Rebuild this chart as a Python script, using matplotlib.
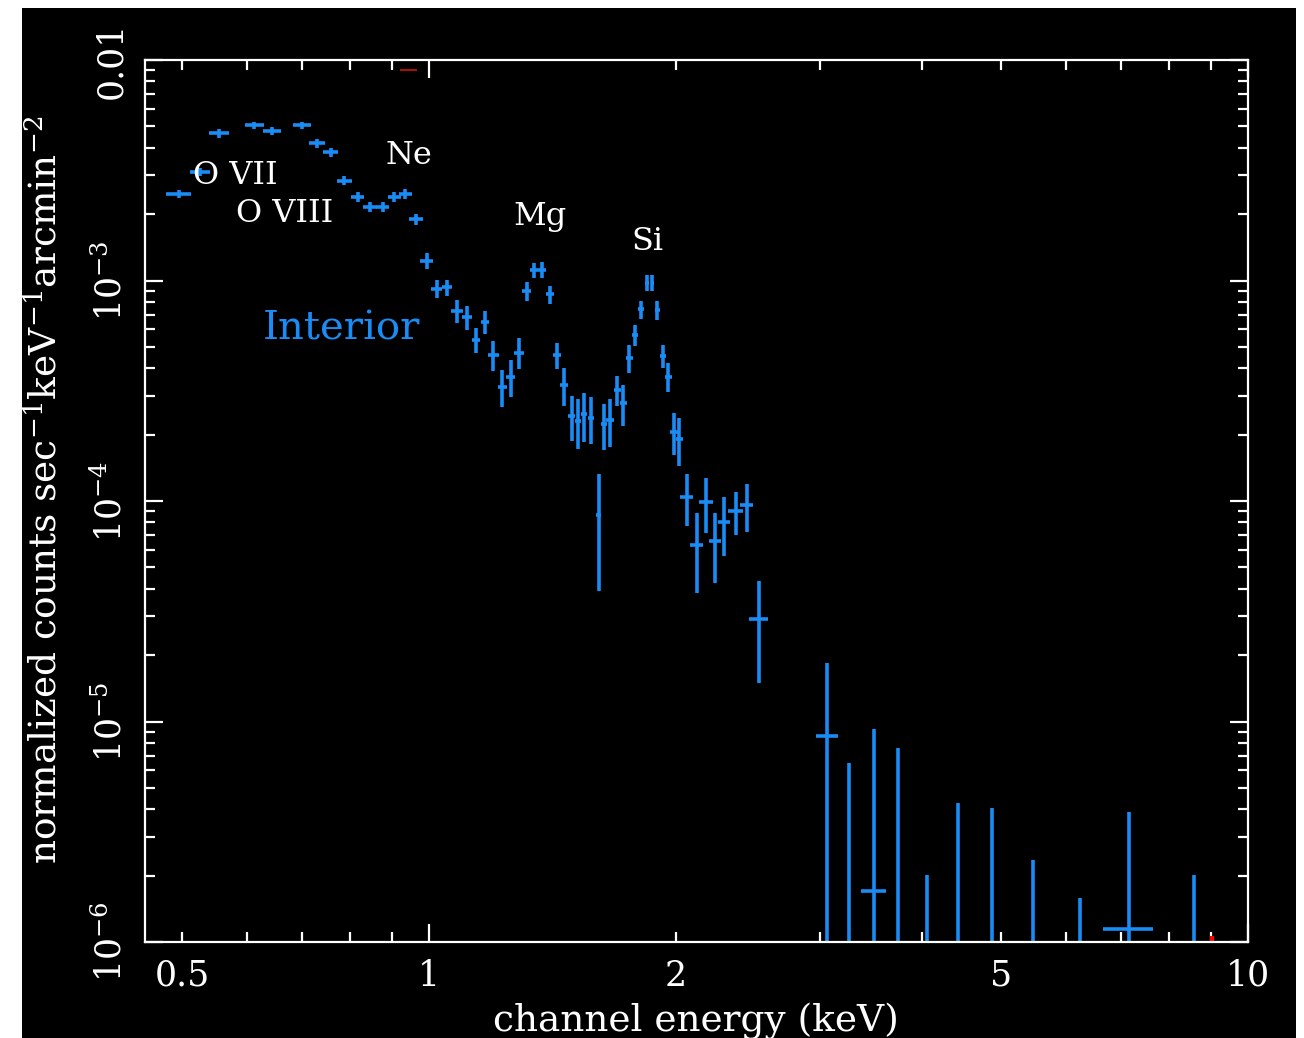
import numpy as np
import matplotlib
matplotlib.use("Agg")
import matplotlib.pyplot as plt
from matplotlib.patches import Rectangle

# spectrum points (keV, counts/s/keV/arcmin^2)
energy = [0.495, 0.525, 0.554, 0.612, 0.643, 0.700, 0.730, 0.759, 0.788, 0.818,
          0.847, 0.878, 0.907, 0.936, 0.964, 0.993, 1.022, 1.053, 1.083, 1.112,
          1.141, 1.171, 1.198, 1.229, 1.259, 1.288, 1.316, 1.345, 1.375, 1.405,
          1.435, 1.462, 1.494, 1.521, 1.547, 1.578, 1.611, 1.636, 1.663, 1.698,
          1.727, 1.756, 1.784, 1.815, 1.845, 1.874, 1.901, 1.932, 1.960, 1.991,
          2.021, 2.063, 2.123, 2.179, 2.237, 2.292, 2.369, 2.443, 2.527, 3.06,
          3.49, 7.15]
energy_err = [0.017, 0.015, 0.016, 0.016, 0.016, 0.018, 0.017, 0.016, 0.017, 0.016,
              0.017, 0.016, 0.017, 0.017, 0.019, 0.017, 0.015, 0.015, 0.018, 0.015,
              0.014, 0.014, 0.018, 0.016, 0.016, 0.019, 0.016, 0.015, 0.015, 0.015,
              0.016, 0.018, 0.014, 0.014, 0.014, 0.014, 0.012, 0.014, 0.018, 0.016,
              0.016, 0.016, 0.016, 0.015, 0.010, 0.010, 0.015, 0.016, 0.020, 0.020,
              0.020, 0.037, 0.040, 0.040, 0.037, 0.040, 0.050, 0.043, 0.068, 0.095,
              0.126, 0.50]
counts = [2.47e-3, 3.11e-3, 4.65e-3, 5.06e-3, 4.78e-3, 5.06e-3, 4.19e-3, 3.81e-3, 2.84e-3, 2.40e-3,
          2.15e-3, 2.15e-3, 2.40e-3, 2.47e-3, 1.90e-3, 1.23e-3, 9.15e-4, 9.3e-4, 7.28e-4, 6.81e-4,
          5.37e-4, 6.49e-4, 4.59e-4, 3.30e-4, 3.66e-4, 4.71e-4, 8.96e-4, 1.115e-3, 1.12e-3, 8.66e-4,
          4.59e-4, 3.35e-4, 2.43e-4, 2.31e-4, 2.48e-4, 2.39e-4, 8.61e-5, 2.23e-4, 2.33e-4, 3.19e-4,
          2.77e-4, 4.47e-4, 5.66e-4, 7.40e-4, 9.77e-4, 9.77e-4, 7.34e-4, 4.55e-4, 3.66e-4, 2.06e-4,
          1.905e-4, 1.047e-4, 6.34e-5, 9.93e-5, 6.56e-5, 8.05e-5, 9.04e-5, 9.60e-5, 2.92e-5, 8.57e-6,
          1.71e-6, 1.14e-6]
counts_err = [1.0e-4, 1.3e-4, 2.0e-4, 2.0e-4, 2.0e-4, 2.0e-4, 2.0e-4, 1.8e-4, 1.4e-4, 1.2e-4,
              1.1e-4, 1.1e-4, 1.2e-4, 1.2e-4, 1.1e-4, 1.0e-4, 8.6e-5, 8.0e-5, 8.4e-5, 8.3e-5,
              7.0e-5, 7.5e-5, 7.2e-5, 6.4e-5, 7.0e-5, 7.5e-5, 9.0e-5, 9.0e-5, 9.0e-5, 8.2e-5,
              6.4e-5, 6.5e-5, 5.6e-5, 5.8e-5, 6.2e-5, 5.7e-5, 4.7e-5, 5.2e-5, 5.7e-5, 5.0e-5,
              5.8e-5, 6.5e-5, 6.2e-5, 7.0e-5, 8.0e-5, 8.0e-5, 7.0e-5, 5.5e-5, 5.5e-5, 4.5e-5,
              4.7e-5, 2.8e-5, 2.5e-5, 2.8e-5, 2.3e-5, 2.4e-5, 2.0e-5, 2.4e-5, 1.42e-5, 9.8e-6,
              7.5e-6, 2.75e-6]

# bins whose value falls below the plot, only the upper error shows
low_energy = [3.26, 3.74, 4.06, 4.42, 4.87, 5.46, 6.24, 8.58]
low_top = [6.45e-6, 7.56e-6, 2.01e-6, 4.26e-6, 4.04e-6, 2.36e-6, 1.58e-6, 2.01e-6]

line_names = ["O VII", "O VIII", "Ne", "Mg", "Si"]
line_pos = [(0.515, 2.98e-3), (0.582, 2.02e-3), (0.884, 3.67e-3), (1.267, 1.95e-3), (1.768, 1.50e-3)]

xtick_major = [1, 10]
xtick_minor = [0.5, 0.6, 0.7, 0.8, 0.9, 2, 3, 4, 5, 6, 7, 8, 9]
xtick_minor_lab = ["0.5", "", "", "", "", "2", "", "", "5", "", "", "", ""]
ytick_major = [1e-6, 1e-5, 1e-4, 1e-3, 1e-2]
ytick_lab = ["10$^{-6}$", "10$^{-5}$", "10$^{-4}$", "10$^{-3}$", "0.01"]

blue = "#1a8cf5"
serif = "DejaVu Serif"
plt.rcParams["font.family"] = serif
plt.rcParams["mathtext.fontset"] = "dejavuserif"

W, H = 1304, 1038
fig = plt.figure(figsize=(W / 100, H / 100), dpi=100, facecolor="white")
fig.patches.append(Rectangle((22 / W, 0), (1296 - 22) / W, 1 - 8 / H,
                             transform=fig.transFigure, facecolor="black", zorder=-1))

ax = fig.add_axes([145 / W, 1 - 942 / H, (1248 - 145) / W, (942 - 60) / H])
ax.set_facecolor("black")
ax.set_xscale("log")
ax.set_yscale("log")
ax.set_xlim(0.45, 10)
ax.set_ylim(1e-6, 1e-2)

y = np.array(counts)
e = np.array(counts_err)
ylo = np.minimum(e, y * 0.999)
ax.errorbar(energy, counts, xerr=energy_err, yerr=[ylo, e], fmt="none",
            ecolor=blue, elinewidth=2.6, capsize=0)
ax.vlines(low_energy, 1e-7, low_top, color=blue, lw=2.6)
ax.vlines([9.05], 1e-7, 1.07e-6, color="red", lw=3)
ax.plot([0.925, 0.965], [9.0e-3, 9.0e-3], color="#aa1100", lw=1.5)

for name, (xp, yp) in zip(line_names, line_pos):
    ax.text(xp, yp, name, color="white", fontsize=23, ha="left", va="center")
ax.text(0.626, 6.0e-4, "Interior", color=blue, fontsize=29, ha="left", va="center")

for s in ax.spines.values():
    s.set_color("white")
    s.set_linewidth(1.6)

ax.set_xticks(xtick_major, labels=["1", "10"])
ax.set_xticks(xtick_minor, labels=xtick_minor_lab, minor=True)
ax.set_yticks(ytick_major, labels=ytick_lab)
ax.set_yticks([m * d for d in [1e-6, 1e-5, 1e-4, 1e-3] for m in range(2, 10)], minor=True)
ax.set_yticklabels([], minor=True)
ax.tick_params(which="both", direction="in", top=True, right=True, colors="white",
               width=1.6, labelsize=25, labelcolor="white")
ax.tick_params(which="major", length=13)
ax.tick_params(which="minor", length=7)
ax.tick_params(axis="x", which="both", pad=12)
ax.tick_params(axis="y", which="both", pad=12)
for lab in ax.get_yticklabels():
    lab.set_rotation(90)
    lab.set_va("center")
    lab.set_ha("right")

fig.text(45 / W, 1 - 490 / H,
         "normalized counts sec$^{-1}$keV$^{-1}$arcmin$^{-2}$",
         rotation=90, ha="center", va="center", color="white", fontsize=27)
fig.text(696 / W, 1 - 1003 / H, "channel energy (keV)", ha="center", va="top",
         color="white", fontsize=27)

fig.savefig("out.png", dpi=100, facecolor="white")
